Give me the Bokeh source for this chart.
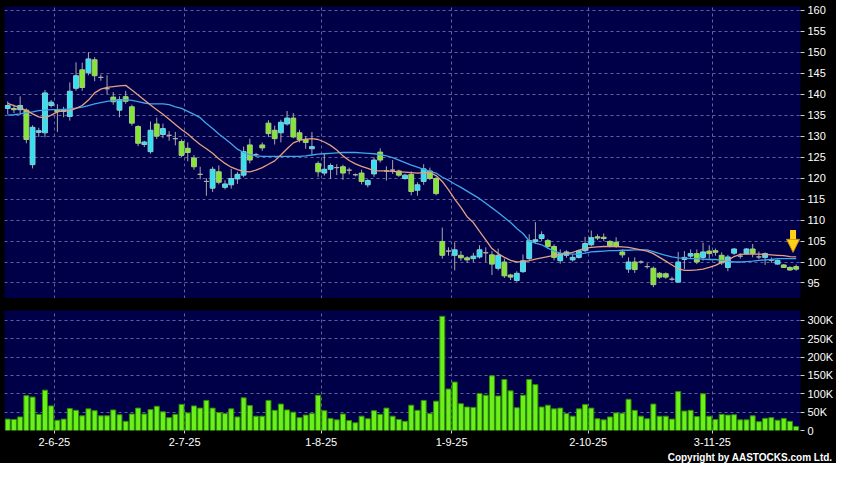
from bokeh.plotting import figure
from bokeh.layouts import column
from bokeh.models import FixedTicker, Range1d, Grid, Title, Arrow, NormalHead, ColumnDataSource
from bokeh.embed import file_html
from bokeh.resources import INLINE

# ---------------- data ----------------
opens = [136.6, 136.6, 136.3, 136.2, 123.2, 130.9, 130.8, 137.3, 136.3, 135.9,
         134.7, 141.4, 145.8, 145.1, 148.2, 144.0, 141.3, 139.3, 136.2, 139.4,
         137.0, 132.3, 128.0, 126.3, 132.9, 130.4, 130.2, 129.4, 128.7, 127.1,
         124.8, 120.9, 119.2, 117.6, 121.5, 117.8, 118.4, 119.8, 120.7, 127.9,
         125.6, 127.9, 133.1, 131.4, 130.8, 132.9, 134.3, 130.8, 129.2, 127.0,
         123.5, 121.2, 122.1, 122.5, 122.7, 121.9, 120.8, 121.2, 118.4, 121.0,
         126.2, 121.7, 121.9, 121.7, 119.9, 120.9, 117.1, 119.2, 121.7, 119.9,
         104.9, 102.6, 101.6, 101.6, 101.0, 100.8, 101.2, 102.2, 101.7, 98.5,
         100.0, 96.9, 95.6, 97.7, 100.8, 104.9, 105.6, 105.1, 103.7, 100.3,
         101.6, 100.5, 101.1, 102.7, 104.1, 106.0, 105.9, 104.9, 104.7, 102.4,
         98.3, 100.0, 100.0, 98.9, 98.5, 97.3, 97.2, 95.9, 95.2, 100.6,
         101.4, 102.0, 101.1, 102.6, 102.7, 101.6, 98.7, 102.1, 101.4, 102.0,
         103.1, 101.2, 101.1, 100.4, 99.5, 99.3, 98.7, 98.9]
highs = [138.3, 137.5, 139.5, 136.6, 132.6, 132.0, 141.0, 138.6, 137.6, 137.0,
         142.8, 147.6, 147.5, 150.0, 148.8, 144.7, 144.5, 140.5, 139.5, 140.8,
         137.5, 132.6, 128.9, 133.5, 134.4, 133.0, 131.2, 131.0, 129.2, 128.5,
         125.5, 122.7, 120.0, 122.7, 123.0, 119.5, 122.2, 121.5, 127.5, 129.4,
         126.0, 128.5, 133.8, 132.5, 133.9, 136.0, 135.5, 131.5, 130.0, 131.0,
         124.0, 126.0, 123.5, 123.3, 123.2, 122.5, 121.1, 122.0, 119.8, 125.0,
         127.1, 122.8, 124.3, 122.0, 121.0, 121.6, 119.0, 123.3, 122.5, 120.3,
         108.2, 103.5, 104.7, 102.6, 101.4, 102.2, 104.0, 103.5, 102.6, 103.2,
         100.8, 97.2, 97.8, 101.8, 106.6, 109.5, 107.3, 105.5, 104.2, 103.0,
         102.8, 101.8, 103.0, 106.0, 107.5, 106.6, 106.8, 105.2, 105.9, 103.0,
         101.1, 101.1, 100.4, 99.7, 98.9, 97.6, 97.5, 96.5, 102.4, 102.6,
         103.0, 103.0, 104.6, 104.0, 103.2, 102.3, 101.7, 103.3, 102.1, 103.3,
         104.3, 102.5, 102.3, 101.1, 100.6, 99.5, 99.0, 99.4]
lows = [135.2, 135.5, 135.1, 128.3, 122.3, 129.8, 129.7, 136.8, 131.0, 134.5,
        133.7, 140.8, 140.8, 144.5, 143.1, 143.2, 140.0, 137.5, 134.5, 137.7,
        132.5, 127.6, 127.4, 125.8, 129.3, 129.5, 128.9, 127.8, 125.0, 124.0,
        122.0, 119.7, 115.8, 116.7, 118.5, 117.3, 117.5, 118.6, 120.2, 123.5,
        125.0, 126.5, 129.8, 128.0, 128.5, 132.5, 129.5, 128.5, 127.0, 125.6,
        120.3, 120.6, 119.8, 120.7, 119.6, 120.9, 120.4, 118.5, 117.8, 120.3,
        123.7, 119.4, 121.0, 120.3, 119.6, 115.9, 115.8, 118.4, 119.5, 115.9,
        100.8, 101.5, 98.0, 100.3, 99.8, 100.0, 100.8, 100.0, 96.9, 98.0,
        96.2, 95.7, 95.3, 97.4, 100.5, 104.3, 105.0, 103.2, 100.4, 99.6,
        101.0, 100.1, 100.8, 102.3, 103.7, 105.2, 105.0, 103.5, 103.4, 101.0,
        97.4, 97.4, 99.6, 98.4, 94.0, 96.0, 96.0, 95.5, 95.2, 98.3,
        100.8, 99.5, 100.3, 100.8, 101.5, 99.3, 97.8, 101.7, 100.8, 101.8,
        101.1, 100.7, 99.3, 99.8, 99.3, 98.6, 97.9, 97.9]
closes = [137.3, 136.3, 137.3, 129.2, 132.1, 131.3, 140.3, 138.1, 135.9, 136.3,
          140.7, 144.4, 141.6, 148.4, 144.4, 144.0, 141.3, 138.2, 138.7, 138.3,
          133.1, 128.3, 128.6, 131.4, 130.0, 131.8, 130.2, 129.4, 125.4, 126.1,
          122.7, 120.9, 119.2, 122.1, 119.0, 118.6, 119.9, 120.9, 126.3, 124.3,
          125.6, 127.2, 130.6, 129.4, 133.3, 134.3, 129.8, 129.2, 128.5, 127.5,
          121.5, 122.1, 123.0, 122.5, 121.2, 121.9, 120.8, 119.2, 119.4, 124.3,
          124.3, 121.7, 121.9, 120.7, 120.7, 116.8, 118.4, 122.2, 119.9, 116.3,
          101.6, 102.6, 102.9, 101.0, 100.5, 101.4, 102.9, 102.2, 99.5, 101.6,
          96.7, 96.4, 97.3, 100.3, 105.1, 105.3, 106.5, 103.7, 101.1, 102.0,
          102.4, 101.1, 102.7, 104.4, 105.8, 105.7, 105.6, 103.9, 103.7, 101.7,
          100.0, 98.2, 100.0, 98.9, 94.6, 96.4, 96.4, 95.9, 100.0, 101.1,
          102.0, 100.0, 102.4, 102.0, 102.3, 99.8, 101.2, 103.1, 101.4, 103.1,
          102.0, 101.2, 102.0, 100.4, 100.4, 98.7, 98.1, 98.3]
ma_short = [137.8, 137.3, 136.8, 136.1, 135.3, 134.6, 134.3, 135.0, 135.8, 136.0,
            136.1, 136.6, 137.3, 138.6, 140.3, 141.2, 141.6, 141.8, 142.0, 142.1,
            141.0, 139.8, 138.6, 137.4, 136.3, 135.2, 134.0, 132.8, 131.6, 130.5,
            129.2, 128.0, 127.0, 125.9, 124.6, 123.5, 122.6, 122.0, 121.6, 121.5,
            121.9, 122.5, 123.3, 124.1, 125.5, 127.0, 128.4, 129.0, 129.3, 129.4,
            129.2, 128.6, 127.8, 126.7, 125.3, 124.2, 123.4, 122.8, 122.3, 121.8,
            121.7, 121.7, 121.6, 121.5, 121.4, 121.3, 121.2, 121.3, 121.3, 120.6,
            119.2, 117.2, 115.0, 113.0, 110.8, 109.4, 107.3, 105.3, 103.2, 102.0,
            101.1, 100.4, 100.0, 100.1, 100.3, 100.7, 101.0, 101.3, 101.6, 101.8,
            102.0, 102.3, 102.8, 103.3, 103.5, 103.6, 103.7, 103.7, 103.7, 103.6,
            103.5, 103.2, 102.9, 102.6, 102.0, 101.1, 100.2, 99.3, 98.4, 98.0,
            98.0, 98.1, 98.3, 98.7, 99.2, 99.9, 100.4, 101.3, 101.8, 101.9,
            101.9, 101.9, 101.8, 101.7, 101.6, 101.5, 101.3, 101.2]
ma_long = [135.0, 135.1, 135.3, 135.6, 135.8, 136.1, 136.2, 136.3, 136.3, 136.4,
           136.5, 136.7, 136.9, 137.3, 137.7, 138.0, 138.3, 138.5, 138.6, 138.7,
           138.5, 138.2, 137.9, 137.7, 137.7, 137.7, 137.5, 137.0, 136.6, 135.9,
           135.2, 134.4, 133.0, 131.8, 130.5, 129.4, 128.2, 126.9, 126.1, 125.6,
           125.3, 125.2, 125.2, 125.2, 125.2, 125.2, 125.2, 125.2, 125.3, 125.5,
           125.7, 125.8, 125.9, 126.0, 126.1, 126.1, 126.1, 126.0, 125.9, 125.8,
           125.6, 125.3, 124.9, 124.3, 123.7, 123.1, 122.6, 122.1, 121.6, 121.2,
           120.2, 119.5, 118.6, 117.8, 116.9, 116.0, 115.1, 114.0, 112.9, 111.8,
           110.6, 109.4, 108.0, 106.8, 105.0, 104.5, 104.1, 103.3, 102.6, 102.1,
           102.0, 101.9, 101.9, 102.1, 102.4, 102.5, 102.6, 102.7, 102.7, 102.8,
           102.8, 102.9, 102.9, 102.9, 102.5, 102.0, 101.6, 101.2, 101.0, 100.9,
           100.8, 100.8, 100.7, 100.6, 100.6, 100.4, 100.2, 100.0, 100.0, 100.1,
           100.2, 100.4, 100.5, 100.6, 100.8, 100.8, 100.8, 100.8]
volume_k = [31, 30, 37, 95, 91, 44, 110, 67, 28, 31,
            60, 55, 40, 59, 54, 40, 40, 56, 43, 25,
            45, 61, 45, 57, 66, 51, 35, 44, 71, 48,
            67, 61, 82, 61, 49, 46, 59, 37, 89, 68,
            39, 39, 82, 55, 72, 56, 50, 35, 42, 46,
            96, 54, 33, 29, 45, 27, 21, 39, 32, 54,
            44, 61, 39, 30, 25, 69, 55, 82, 46, 80,
            311, 113, 132, 73, 64, 63, 101, 96, 149, 94,
            139, 108, 62, 96, 139, 125, 64, 69, 59, 61,
            46, 39, 59, 71, 61, 32, 29, 37, 48, 47,
            85, 55, 39, 32, 72, 39, 39, 31, 106, 53,
            55, 38, 100, 39, 30, 44, 42, 43, 29, 29,
            40, 24, 33, 35, 28, 33, 25, 11]
# first trading day of each labelled month (bar index) and its label
month_start_bar = [8, 29, 51, 72, 94, 114]
month_labels = ["2-6-25", "2-7-25", "1-8-25", "1-9-25", "2-10-25", "3-11-25"]
price_ticks = [95, 100, 105, 110, 115, 120, 125, 130, 135, 140, 145, 150, 155, 160]
volume_ticks_k = [0, 50, 100, 150, 200, 250, 300]
copyright_text = "Copyright by AASTOCKS.com Ltd."

# ---------------- styles ----------------
BG = "#000048"
GRID = "#62629a"
UP, UP_EDGE = "#30e2f2", "#8ccfd6"
DOWN, DOWN_EDGE = "#82e632", "#a8cc86"
DOJI, DOJI_EDGE = "#b0b0b0", "#b0b0b0"
WICK = "#a8a8a8"
FONT = "Liberation Sans"

n = len(closes)
idx = list(range(n))
month_x = [b - 0.5 for b in month_start_bar]

colors, edges = [], []
for o, c in zip(opens, closes):
    if c > o:
        colors.append(UP); edges.append(UP_EDGE)
    elif c < o:
        colors.append(DOWN); edges.append(DOWN_EDGE)
    else:
        colors.append(DOJI); edges.append(DOJI_EDGE)

src = ColumnDataSource(dict(
    x=idx, o=opens, h=highs, l=lows, c=closes,
    top=[max(o, c) for o, c in zip(opens, closes)],
    bottom=[min(o, c) for o, c in zip(opens, closes)],
    color=colors, edge=edges, vol=[v * 1000 for v in volume_k],
))

xr = Range1d(-0.52, n - 0.3)

FW = 796
RB = 34
LB = 4

p1 = figure(frame_width=FW, frame_height=292, x_range=xr, y_range=Range1d(91.3, 160.9),
            x_axis_location=None, y_axis_location="right",
            output_backend="svg", toolbar_location=None,
            background_fill_color=BG, border_fill_color="black",
            outline_line_color=None, min_border_left=LB, min_border_top=6,
            min_border_bottom=0, min_border_right=RB)

p2 = figure(frame_width=FW, frame_height=120, x_range=xr, y_range=Range1d(0, 327000),
            y_axis_location="right",
            output_backend="svg", toolbar_location=None,
            background_fill_color=BG, border_fill_color="black",
            outline_line_color=None, min_border_left=LB, min_border_top=12,
            min_border_bottom=0, min_border_right=RB)

for p in (p1, p2):
    p.xgrid.visible = False
    p.add_layout(Grid(dimension=0, ticker=FixedTicker(ticks=month_x),
                      grid_line_color=GRID, grid_line_dash="3 3", grid_line_width=1))
    p.ygrid.grid_line_color = GRID
    p.ygrid.grid_line_dash = "3 3"
    ax = p.yaxis[0]
    ax.axis_line_color = None
    ax.major_tick_line_color = "#d0d0d0"
    ax.major_tick_out = 4
    ax.major_tick_in = 0
    ax.minor_tick_line_color = None
    ax.major_label_text_color = "white"
    ax.major_label_text_font = FONT
    ax.major_label_text_font_size = "11px"
    ax.major_label_standoff = 3

p1.yaxis.ticker = FixedTicker(ticks=price_ticks)
p1.ygrid.ticker = FixedTicker(ticks=price_ticks)

vt = [v * 1000 for v in volume_ticks_k]
p2.yaxis.ticker = FixedTicker(ticks=vt)
p2.ygrid.ticker = FixedTicker(ticks=vt)
p2.yaxis.major_label_overrides = {t: ("0" if k == 0 else f"{k}K") for t, k in zip(vt, volume_ticks_k)}

xa = p2.xaxis[0]
xa.ticker = FixedTicker(ticks=month_x)
xa.major_label_overrides = {x: lab for x, lab in zip(month_x, month_labels)}
xa.axis_line_color = None
xa.major_tick_line_color = "#d0d0d0"
xa.major_tick_out = 3
xa.major_tick_in = 0
xa.minor_tick_line_color = None
xa.major_label_text_color = "white"
xa.major_label_text_font = FONT
xa.major_label_text_font_size = "11px"
xa.major_label_standoff = 4

# candles
p1.segment(x0="x", y0="l", x1="x", y1="h", source=src, line_color=WICK, line_width=1)
p1.vbar(x="x", top="top", bottom="bottom", width=0.78, source=src,
        fill_color="color", line_color="edge", line_width=1)

# moving averages
p1.line(idx, ma_long, line_color="#3ea6ea", line_width=1.3)
p1.line(idx, ma_short, line_color="#e4a083", line_width=1.3)

# marker arrow above the latest bars
ax_x = n - 1.5
p1.add_layout(Arrow(end=NormalHead(size=13, fill_color="#ffd21a", line_color="#c89000", line_width=1),
                    x_start=ax_x, y_start=highs[-1] + 8.2, x_end=ax_x, y_end=highs[-1] + 2.9,
                    line_color="#ffd21a", line_width=6))

# volume
p2.vbar(x="x", top="vol", bottom=0, width=0.8, source=src,
        fill_color="#6cf01c", line_color="#2f8f00", line_width=1)

p2.add_layout(Title(text=copyright_text, align="right", text_color="white",
                    text_font=FONT, text_font_size="10px", text_font_style="bold",
                    offset=-(RB - 2), standoff=2), "below")

layout = column(p1, p2, spacing=0, styles={"background-color": "black"})

open("out.html", "w").write(file_html(layout, INLINE))
